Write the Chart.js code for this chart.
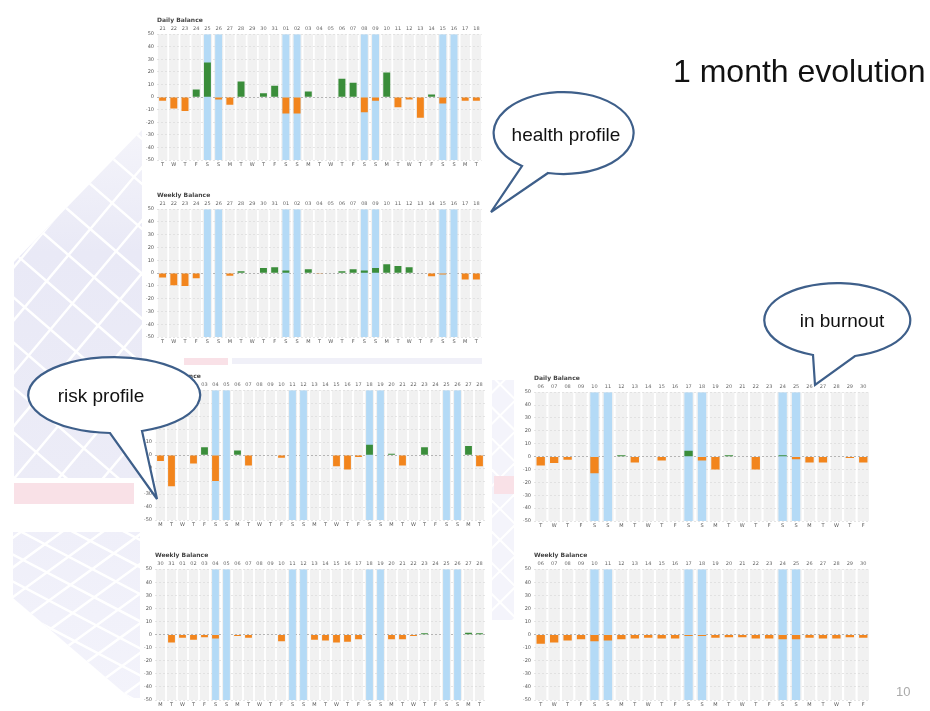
<!DOCTYPE html>
<html>
<head>
<meta charset="utf-8">
<script src="https://cdn.jsdelivr.net/npm/chart.js@4.4.1/dist/chart.umd.min.js"></script>
<style>
  html, body { margin:0; padding:0; background:#fff; }
  #slide { position:relative; width:930px; height:711px; overflow:hidden; background:#fff; font-family:"Liberation Sans", Arial, sans-serif; }
  #bg { position:absolute; left:0; top:0; }
  .chart { position:absolute; background:#fff; }
  #bubbles { position:absolute; left:0; top:0; z-index:5; }
  #title { position:absolute; left:673px; top:55px; font-size:32px; line-height:32px; color:#111; white-space:nowrap; z-index:6; }
  #pagenum { position:absolute; left:896px; top:684px; font-size:13px; color:#aaa; }
</style>
</head>
<body>
<div id="slide">
  <canvas id="bg" width="930" height="711"></canvas>
  <div id="title">1 month evolution</div>
  <div id="pagenum">10</div>
  <svg id="bubbles" width="930" height="711" xmlns="http://www.w3.org/2000/svg">
    <g fill="#fff" stroke="#3e5f8a" stroke-width="2.2" stroke-linejoin="miter">
      <path d="M 522 166 A 70 41 0 1 1 548 173 L 491 212 Z"/>
      <path d="M 813 355 A 73 37 0 1 1 855 356 L 815 385 Z"/>
      <path d="M 110 433 A 86 38 0 1 1 142 431 L 157 499 Z"/>
    </g>
    <g font-family="Liberation Sans, Arial, sans-serif" font-size="19" fill="#111" text-anchor="middle">
      <text x="566" y="141">health profile</text>
      <text x="842" y="327">in burnout</text>
      <text x="101" y="402">risk profile</text>
    </g>
  </svg>
</div>
<script>
// ---------------- DATA ----------------
const healthDays  = ['T','W','T','F','S','S','M','T','W','T','F','S','S','M','T','W','T','F','S','S','M','T','W','T','F','S','S','M','T'];
const healthDates = ['21','22','23','24','25','26','27','28','29','30','31','01','02','03','04','05','06','07','08','09','10','11','12','13','14','15','16','17','18'];
const healthDaily  = [-3,-9,-11,6,27.5,-2,-6,12.5,0,3,9,-13,-13,4.5,0,0,14.5,11.5,-12,-3,19.5,-8,-2,-16.5,2,-5,0,-3,-3];
const healthWeekly = [-3.5,-9.5,-10,-4,0,0,-2,1.5,0,4,4.5,2,0,3,-0.5,0,1.5,3,2,4,7,5.5,4.5,0,-2.5,-1,0,-5,-5];

const riskDays  = ['M','T','W','T','F','S','S','M','T','W','T','F','S','S','M','T','W','T','F','S','S','M','T','W','T','F','S','S','M','T'];
const riskDates = ['30','31','01','02','03','04','05','06','07','08','09','10','11','12','13','14','15','16','17','18','19','20','21','22','23','24','25','26','27','28'];
const riskDaily  = [-4.5,-24,0,-6.5,6,-20,0,3.5,-8,0,0,-2,0,0,0,0,-8.5,-11,-1.5,8,0,1,-8,0,6,0,0,0,7,-8.5];
const riskWeekly = [0,-6,-2.5,-4,-2,-3,0,-1,-2.5,0,0,-5,0,0,-4,-4.5,-6,-5.5,-3.5,0,0,-3.5,-3.5,-1,1,0,0,0,1.5,1];

const burnDays  = ['T','W','T','F','S','S','M','T','W','T','F','S','S','M','T','W','T','F','S','S','M','T','W','T','F'];
const burnDates = ['06','07','08','09','10','11','12','13','14','15','16','17','18','19','20','21','22','23','24','25','26','27','28','29','30'];
const burnDaily  = [-7,-5,-2.5,0,-13,0,1,-4.5,0,-3,0,4.5,-3,-10,1,0,-10,0,1,-2,-4.5,-4.5,0,-1,-4.5];
const burnWeekly = [-7,-6,-4.5,-3.5,-5,-4.5,-3.5,-3,-2.5,-3,-3,-1,-1,-2.5,-2,-2,-3,-3,-3.5,-3.5,-2.5,-3,-3,-2,-2.5];

const yTickValues = [50,40,30,20,10,0,-10,-20,-30,-40,-50];

// ---------------- STYLE ----------------
const GREEN = '#3a8d3a';
const ORANGE = '#f2851d';
const WEEKEND = '#b4daf6';
const COLBG = '#f1f1f1';
const FONT = 'DejaVu Sans';

// background lattice decoration
(function drawBg(){
  const c = document.getElementById('bg').getContext('2d');
  function lattice(poly, ang1, ang2, step, color, lw){
    c.save();
    c.beginPath();
    poly.forEach((p,i)=> i? c.lineTo(p[0],p[1]) : c.moveTo(p[0],p[1]));
    c.closePath();
    c.fillStyle = color; c.fill();
    c.clip();
    c.strokeStyle = '#fff'; c.lineWidth = lw;
    [ang1, ang2].forEach(a=>{
      const dx = Math.cos(a), dy = Math.sin(a);
      const nx = -dy, ny = dx;
      for(let k=-40;k<=40;k++){
        const ox = 80 + nx*k*step, oy = 400 + ny*k*step;
        c.beginPath();
        c.moveTo(ox - dx*1500, oy - dy*1500);
        c.lineTo(ox + dx*1500, oy + dy*1500);
        c.stroke();
      }
    });
    c.restore();
  }
  const g1 = c.createLinearGradient(0, 130, 0, 480);
  g1.addColorStop(0, '#f4f4fa'); g1.addColorStop(0.35, '#e9e9f6'); g1.addColorStop(1, '#ececf7');
  lattice([[142,130],[142,478],[14,478],[14,262]], Math.PI/4.4, -Math.PI/3.6, 34, g1, 2.5);
  const g2 = c.createLinearGradient(0, 530, 0, 700);
  g2.addColorStop(0, '#efeff9'); g2.addColorStop(1, '#f3f3fb');
  lattice([[13,532],[140,532],[140,698],[130,698],[13,598]], Math.PI/6.5, -Math.PI/5, 24, g2, 2.5);
  lattice([[492,380],[514,380],[514,620],[492,620]], Math.PI/4, -Math.PI/4, 22, '#f4f4fb', 2);
  c.fillStyle = '#f9e1e7';
  c.fillRect(14, 483, 120, 21);
  c.fillRect(184, 358, 44, 7);
  c.fillRect(494, 476, 20, 18);
  c.fillStyle = '#f0f0f8';
  c.fillRect(232, 358, 250, 6);
})();

const colBgPlugin = {
  id: 'colBg',
  beforeDraw(chart){
    const {ctx, chartArea:a, scales:{x}} = chart;
    const n = x.getLabels().length;
    const w = (a.right - a.left) / n * 0.84;
    ctx.save();
    ctx.fillStyle = COLBG;
    for (let i=0;i<n;i++){
      const cx = x.getPixelForValue(i);
      ctx.fillRect(cx - w/2, a.top, w, a.bottom - a.top);
    }
    ctx.restore();
  }
};

function makeChart(box, title, days, dates, values){
  const cv = document.createElement('canvas');
  cv.width = box.w; cv.height = box.h;
  cv.className = 'chart';
  cv.style.left = box.x + 'px'; cv.style.top = box.y + 'px';
  document.getElementById('slide').appendChild(cv);
  new Chart(cv.getContext('2d'), {
    type: 'bar',
    data: {
      labels: days,
      datasets: [
        {
          data: values,
          backgroundColor: values.map(v => v >= 0 ? GREEN : ORANGE),
          barPercentage: 0.62, categoryPercentage: 1, grouped: false, order: 1
        },
        {
          data: days.map(d => d === 'S' ? [-50, 50] : null),
          backgroundColor: WEEKEND,
          barPercentage: 0.62, categoryPercentage: 1, grouped: false, order: 2
        }
      ]
    },
    options: {
      responsive: false, animation: false, devicePixelRatio: 1,
      layout: { padding: 0 },
      plugins: {
        legend: { display: false }, tooltip: { enabled: false },
        title: { display: true, text: title, align: 'start', color: '#444', fullSize: false,
                 font: { family: FONT, size: 6 }, padding: { top: 0, bottom: 2 } }
      },
      scales: {
        x: {
          position: 'bottom', offset: true,
          grid: { display: false, drawTicks: false }, border: { display: false },
          ticks: { font: { family: FONT, size: 5 }, color: '#555', padding: 2, maxRotation: 0, autoSkip: false },
          afterFit: s => { s.height = 8; }
        },
        x2: {
          type: 'category', position: 'top', labels: dates, offset: true,
          grid: { display: false, drawTicks: false }, border: { display: false },
          ticks: { font: { family: FONT, size: 5 }, color: '#666', padding: 2, maxRotation: 0, autoSkip: false },
          afterFit: s => { s.height = 8; }
        },
        y: {
          min: -50, max: 50,
          afterBuildTicks: s => { s.ticks = yTickValues.map(v => ({ value: v })); },
          grid: { color: c => c.tick && c.tick.value === 0 ? '#9a9a9a' : '#dadada', lineWidth: 0.7, drawTicks: false },
          border: { display: false, dash: [2, 2] },
          ticks: { font: { family: FONT, size: 5 }, color: '#555', padding: 3 },
          afterFit: s => { s.width = 14; }
        }
      }
    },
    plugins: [colBgPlugin]
  });
}

makeChart({x:143, y:17,  w:339, h:151}, 'Daily Balance',  healthDays, healthDates, healthDaily);
makeChart({x:143, y:192, w:339, h:153}, 'Weekly Balance', healthDays, healthDates, healthWeekly);
makeChart({x:141, y:373, w:344, h:155}, 'Daily Balance',  riskDays,   riskDates,   riskDaily);
makeChart({x:141, y:552, w:344, h:156}, 'Weekly Balance', riskDays,   riskDates,   riskWeekly);
makeChart({x:520, y:375, w:350, h:154}, 'Daily Balance',  burnDays,   burnDates,   burnDaily);
makeChart({x:520, y:552, w:350, h:156}, 'Weekly Balance', burnDays,   burnDates,   burnWeekly);
</script>
</body>
</html>
